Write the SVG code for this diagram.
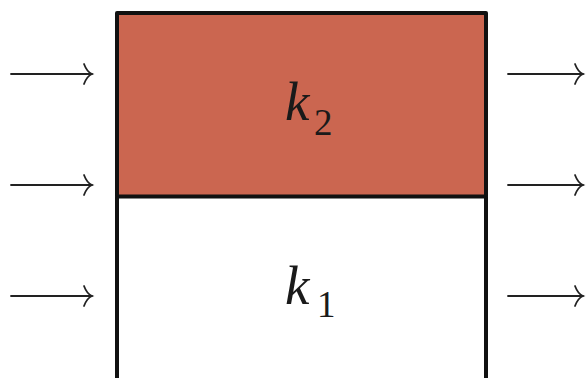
<svg xmlns="http://www.w3.org/2000/svg" xmlns:xlink="http://www.w3.org/1999/xlink" width="586" height="378" viewBox="0 0 586 378">
<style>
.box{stroke:#111;stroke-width:4;stroke-linejoin:round}
.arr{stroke:#222;stroke-width:1.8;fill:none;stroke-linecap:round}
.k{font-family:"Liberation Serif",serif;font-style:italic;font-size:55px;fill:#1a1a1a}
.s{font-family:"Liberation Serif",serif;font-size:37px;fill:#1a1a1a}
</style>
<defs>
<path id="head" d="M -8,-10 Q -5,-2 0,0 Q -5,2 -8,10" class="arr"/>
</defs>
<rect width="586" height="378" fill="#ffffff"/>
<g id="block-k2">
<rect x="117" y="13" width="369" height="183.5" fill="#cb6650" class="box"/>
<text x="285" y="120" class="k">k</text>
<text x="314" y="135" class="s">2</text>
</g>
<g id="block-k1">
<path d="M117,196.5 V380 M486,196.5 V380" fill="none" class="box"/>
<text x="285" y="304" class="k">k</text>
<text x="317" y="317" class="s">1</text>
</g>
<g id="connectors">
<path class="arr" d="M11,74 H92 M11,185 H92 M11,296 H92 M508,74 H583 M508,185 H583 M508,296 H583"/>
<use xlink:href="#head" x="92" y="74"/>
<use xlink:href="#head" x="92" y="185"/>
<use xlink:href="#head" x="92" y="296"/>
<use xlink:href="#head" x="583" y="74"/>
<use xlink:href="#head" x="583" y="185"/>
<use xlink:href="#head" x="583" y="296"/>
</g>
</svg>
